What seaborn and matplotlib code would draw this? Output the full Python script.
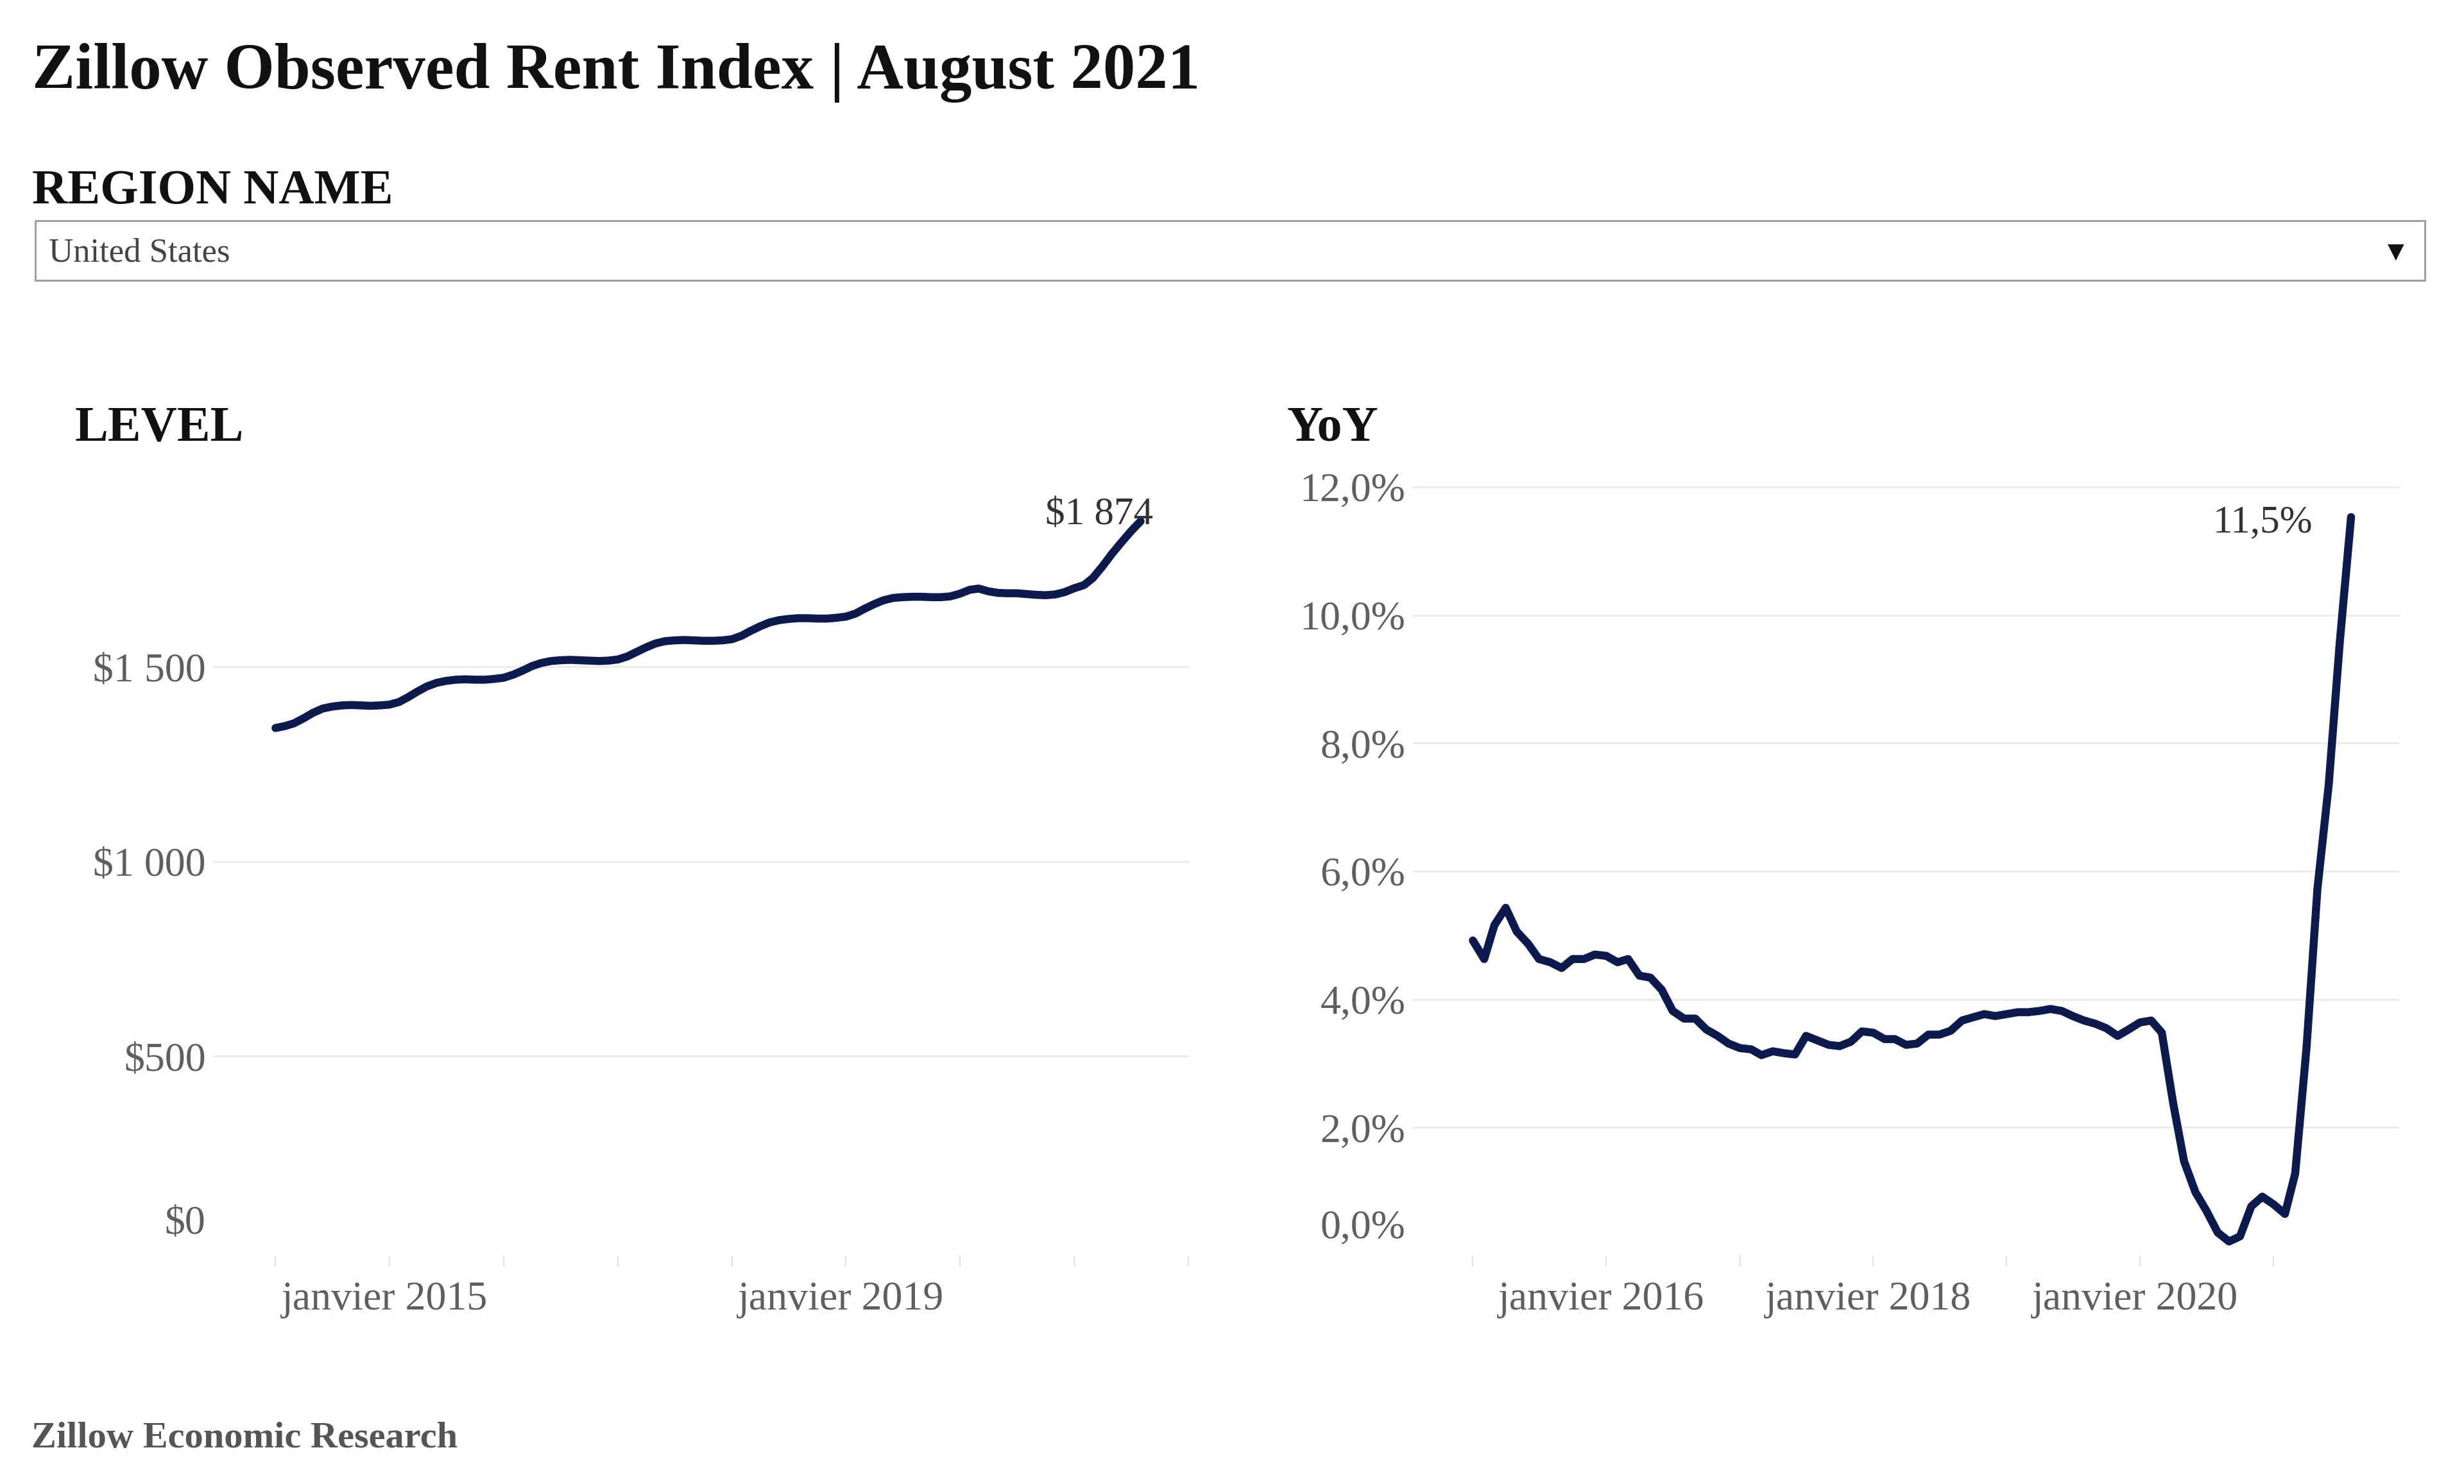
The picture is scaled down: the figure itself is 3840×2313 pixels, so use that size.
import matplotlib
matplotlib.use("Agg")
import matplotlib.pyplot as plt
import matplotlib.transforms as mtransforms
from matplotlib.patches import Rectangle
import numpy as np
import pandas as pd
import seaborn as sns

# ---------------- data ----------------
level_start = "2014-01-01"
level_values = [
    1343, 1348, 1355, 1368, 1382, 1393, 1398, 1401, 1402, 1401, 1400, 1401,   # 2014
    1403, 1410, 1422, 1437, 1450, 1459, 1464, 1467, 1468, 1467, 1467, 1469,   # 2015
    1472, 1480, 1490, 1502, 1510, 1515, 1517, 1518, 1517, 1516, 1515, 1516,   # 2016
    1519, 1527, 1538, 1550, 1560, 1566, 1568, 1569, 1568, 1567, 1567, 1568,   # 2017
    1571, 1580, 1592, 1604, 1614, 1620, 1623, 1625, 1625, 1624, 1624, 1626,   # 2018
    1629, 1637, 1649, 1661, 1671, 1677, 1679, 1680, 1680, 1679, 1679, 1681,   # 2019
    1688, 1698, 1701, 1694, 1690, 1689, 1689, 1687, 1685, 1684, 1686, 1692,   # 2020
    1702, 1710, 1728, 1758, 1790, 1820, 1848, 1874,                           # 2021
]
yoy_start = "2015-01-01"
yoy_values = [
    4.92, 4.63, 5.16, 5.43, 5.06, 4.87, 4.63, 4.58, 4.49, 4.63, 4.63, 4.70,   # 2015
    4.68, 4.58, 4.63, 4.37, 4.34, 4.15, 3.82, 3.70, 3.70, 3.53, 3.43, 3.31,   # 2016
    3.24, 3.22, 3.13, 3.19, 3.16, 3.14, 3.43, 3.36, 3.29, 3.27, 3.34, 3.50,   # 2017
    3.48, 3.38, 3.38, 3.29, 3.31, 3.45, 3.45, 3.51, 3.67, 3.72, 3.77, 3.74,   # 2018
    3.77, 3.80, 3.80, 3.82, 3.85, 3.82, 3.74, 3.67, 3.62, 3.55, 3.43, 3.53,   # 2019
    3.64, 3.67, 3.48, 2.38, 1.47, 0.99, 0.70, 0.36, 0.22, 0.30, 0.77, 0.92,   # 2020
    0.80, 0.65, 1.28, 3.24, 5.73, 7.36, 9.57, 11.53,                          # 2021
]

level_yticks = [0, 500, 1000, 1500]
level_ytick_labels = ["$0", "$500", "$1 000", "$1 500"]
yoy_yticks = [0, 2, 4, 6, 8, 10, 12]
yoy_ytick_labels = ["0,0%", "2,0%", "4,0%", "6,0%", "8,0%", "10,0%", "12,0%"]

level_tick_years = list(range(2014, 2023))
level_label_years = [2015, 2019]
yoy_tick_years = list(range(2015, 2022))
yoy_label_years = [2016, 2018, 2020]
month_label = "janvier"

level_last_label = "$1 874"
yoy_last_label = "11,5%"

title_text = "Zillow Observed Rent Index | August 2021"
filter_title = "REGION NAME"
filter_value = "United States"
left_title = "LEVEL"
right_title = "YoY"
footer_text = "Zillow Economic Research"

# ---------------- frames ----------------
level_df = pd.DataFrame({
    "date": pd.date_range(level_start, periods=len(level_values), freq="MS"),
    "value": level_values,
})
yoy_df = pd.DataFrame({
    "date": pd.date_range(yoy_start, periods=len(yoy_values), freq="MS"),
    "value": yoy_values,
})

# ---------------- style ----------------
sns.set_theme(style="white")
plt.rcParams["font.family"] = ["Liberation Serif", "DejaVu Serif"]

W, H = 3840, 2313
DPI = 100
fig = plt.figure(figsize=(W / DPI, H / DPI), dpi=DPI)
fig.patch.set_facecolor("white")

def fx(px):
    return px / W

def fy(py):
    return 1 - py / H

LINE_COLOR = "#0c1a4e"
TICK_COLOR = "#5f5f5f"
GRID_COLOR = "#ececec"
TICK_FS = 46
ANNOT_FS = 44

# ---------------- header ----------------
fig.text(fx(50), fy(138), title_text, fontsize=72.5, fontweight="bold",
         color="#111111", ha="left", va="baseline")
fig.text(fx(50), fy(317), filter_title, fontsize=55, fontweight="bold",
         color="#111111", ha="left", va="baseline")
box = Rectangle((fx(55), fy(437)), fx(3779) - fx(55), fy(344) - fy(437),
                transform=fig.transFigure, facecolor="white",
                edgecolor="#a0a0a0", linewidth=2.2)
fig.add_artist(box)
fig.text(fx(76), fy(408), filter_value, fontsize=38, color="#444444",
         ha="left", va="baseline")
fig.text(fx(3734), fy(392), "\u25BC", fontsize=24, color="#111111",
         ha="center", va="center", family=["DejaVu Sans"])

fig.text(fx(117), fy(686), left_title, fontsize=56, fontweight="bold",
         color="#111111", ha="left", va="baseline")
fig.text(fx(2006), fy(686), right_title, fontsize=56, fontweight="bold",
         color="#111111", ha="left", va="baseline")
fig.text(fx(49), fy(2256), footer_text, fontsize=42, fontweight="bold",
         color="#555555", ha="left", va="baseline")

# ---------------- axes ----------------
ax_top, ax_bot = 759, 1957
ax1 = fig.add_axes([fx(333), fy(ax_bot), fx(1852) - fx(333), (ax_bot - ax_top) / H])
ax2 = fig.add_axes([fx(2202), fy(ax_bot), fx(3738) - fx(2202), (ax_bot - ax_top) / H])


def style_axis(ax, df, yticks, ylabels, ylim, xlim, tick_years, label_years,
               last_label, last_offset, ypad):
    for v in yticks[1:]:
        ax.axhline(v, color=GRID_COLOR, linewidth=2.2, zorder=0)
    sns.lineplot(data=df, x="date", y="value", ax=ax, color=LINE_COLOR,
                 linewidth=9, solid_capstyle="round", solid_joinstyle="round",
                 zorder=3)
    ax.set_xlim(pd.Timestamp(xlim[0]), pd.Timestamp(xlim[1]))
    ax.set_ylim(*ylim)
    ax.set_yticks(yticks)
    ax.set_yticklabels(ylabels)
    ticks = [pd.Timestamp(f"{y}-01-01") for y in tick_years]
    ax.set_xticks(ticks)
    ax.set_xticklabels([f"{month_label} {y}" if y in label_years else ""
                        for y in tick_years])
    ax.set_xlabel("")
    ax.set_ylabel("")
    for s in ax.spines.values():
        s.set_visible(False)
    ax.grid(False)
    ax.tick_params(axis="y", length=0, pad=ypad, labelsize=TICK_FS,
                   labelcolor=TICK_COLOR)
    ax.tick_params(axis="x", length=12, width=1.6, color="#e2e2e2",
                   direction="out", pad=17, labelsize=TICK_FS,
                   labelcolor=TICK_COLOR, bottom=True)
    ax.set_facecolor("white")
    # lift the zero label above the baseline like the original
    zero_lab = ax.get_yticklabels()[0]
    zero_lab.set_transform(zero_lab.get_transform() +
                           mtransforms.ScaledTranslation(0, 49 / DPI, fig.dpi_scale_trans))
    # labels sit a touch left of their ticks in the original
    for lab in ax.get_xticklabels():
        lab.set_transform(lab.get_transform() +
                          mtransforms.ScaledTranslation(-8 / DPI, 0, fig.dpi_scale_trans))
    last = df.iloc[-1]
    ax.annotate(last_label, xy=(last["date"], last["value"]),
                xytext=last_offset, textcoords="offset points",
                ha="right", va="baseline", fontsize=ANNOT_FS, color="#333333",
                zorder=4)


style_axis(ax1, level_df, level_yticks, level_ytick_labels, (-12, 1962),
           ("2013-06-17", "2022-01-01"), level_tick_years, level_label_years,
           level_last_label, (14, -4), 9)
style_axis(ax2, yoy_df, yoy_yticks, yoy_ytick_labels, (0, 12.0),
           ("2014-07-21", "2021-12-09"), yoy_tick_years, yoy_label_years,
           yoy_last_label, (-43, -17), 8.5)
for ax in (ax1, ax2):
    for line in ax.get_lines():
        line.set_clip_on(False)

fig.savefig("out.png", dpi=DPI, facecolor="white")
